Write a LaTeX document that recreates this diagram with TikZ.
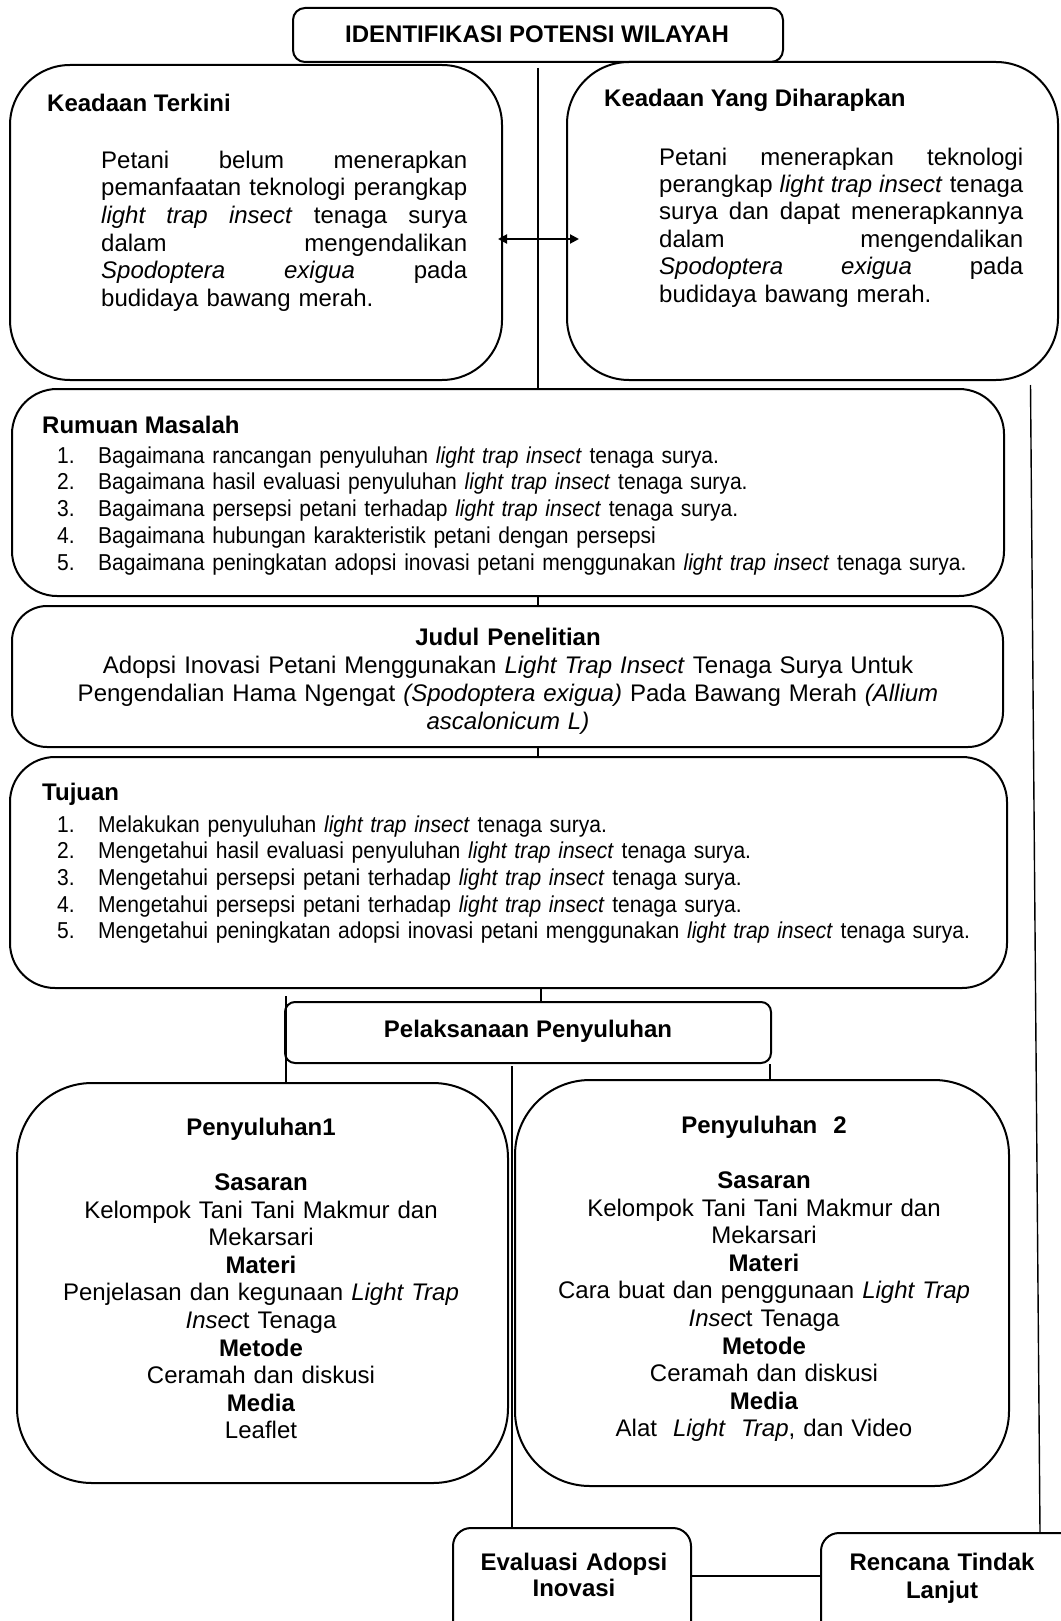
\documentclass[tikz,border=0pt]{standalone}
\usepackage{fontspec}
\setmainfont{Liberation Sans}
\newfontfamily\listfont[FakeStretch=0.915]{Liberation Sans}
\usetikzlibrary{arrows.meta,calc}
\newcommand{\jline}[2]{\makebox[#1][s]{\spaceskip=0.28em plus 1fil\relax #2}}
\newcommand{\itm}[2]{\makebox[41pt][l]{#1}#2}
\tikzset{
  panel/.style={draw, line width=2pt, rounded corners=#1, inner sep=0pt, fill=white},
  link/.style={line width=1.4pt},
  hd/.style={inner sep=0pt, font=\bfseries\fontsize{24}{28}\selectfont},
  para/.style={inner sep=0pt, anchor=north west, align=left},
  ctr/.style={inner sep=0pt, anchor=north, align=center},
}
\begin{document}
\begin{tikzpicture}[x=1pt,y=-1pt]
\useasboundingbox (0,0) rectangle (1060,1621);
\fill[white] (0,0) rectangle (1060,1621);

% boxes
\node[panel=12pt, minimum width=490pt, minimum height=54pt] (title) at (538,35) {};
\node[panel=60pt, minimum width=492pt, minimum height=315pt] (kt) at (256,222.5) {};
\node[panel=62pt, minimum width=491pt, minimum height=318pt] (kd) at (812.5,221) {};
\node[panel=45pt, minimum width=992pt, minimum height=207pt] (rm) at (508,492.5) {};
\node[panel=35pt, minimum width=991pt, minimum height=141pt] (jd) at (507.5,676.5) {};
\node[panel=45pt, minimum width=997pt, minimum height=231pt] (tj) at (508.5,872.5) {};
\node[panel=10pt, minimum width=486pt, minimum height=61pt] (pl) at (528,1032.5) {};
\node[panel=75pt, minimum width=491pt, minimum height=400pt] (p1) at (262.5,1283) {};
\node[panel=75pt, minimum width=494pt, minimum height=406pt] (p2) at (762,1283) {};
\node[panel=18pt, minimum width=238pt, minimum height=122pt] (ev) at (572,1589) {};
\node[panel=18pt, minimum width=259pt, minimum height=122pt] (rc) at (950.5,1594) {};

% connectors
\coordinate (vx) at ([yshift=-5pt]title.south);
\draw[link] (vx) -- (vx |- rm.north);
\draw[link] (vx |- rm.south) -- (vx |- jd.north);
\draw[link] (vx |- jd.south) -- (vx |- tj.north);
\coordinate (px) at ([xshift=13pt]pl.north);
\draw[link] (px |- tj.south) -- (px);
\coordinate (lx) at ([xshift=2pt,yshift=5pt]pl.north west);
\draw[link] (lx) -- (lx |- p1.north);
\coordinate (rx) at ([xshift=-2pt]pl.south east);
\draw[link] (rx) -- (rx |- p2.north);
\coordinate (mx) at (512,1066);
\draw[link] (mx) -- (mx |- ev.north);
\coordinate (hx) at (0,1576);
\draw[link] (ev.east |- hx) -- (rc.west |- hx);
\draw[link] ([xshift=218pt,yshift=-4pt]kd.south) -- ([xshift=89.5pt]rc.north);
\draw[line width=2pt, {Triangle[length=9pt,width=9pt]}-{Triangle[length=9pt,width=9pt]}]
  ([xshift=-5pt,yshift=-16.5pt]kt.east) -- ([xshift=13pt,yshift=-18pt]kd.west);

% texts
\node[hd, anchor=base] (titleT) at (537,43) {IDENTIFIKASI POTENSI WILAYAH};

\node[hd, anchor=base west] (ktH) at (47,112) {Keadaan Terkini};
\node[para, text width=366pt, font=\fontsize{24}{27.7}\selectfont] (ktT) at (101,148.6) {%
\strut\jline{366pt}{Petani belum menerapkan}\\
\jline{366pt}{pemanfaatan teknologi perangkap}\\
\jline{366pt}{\textit{light trap insect} tenaga surya}\\
\jline{366pt}{dalam mengendalikan}\\
\jline{366pt}{\textit{Spodoptera exigua} pada}\\
budidaya bawang merah.};

\node[hd, anchor=base west] (kdH) at (604,107) {Keadaan Yang Diharapkan};
\node[para, text width=364pt, font=\fontsize{24}{27.4}\selectfont] (kdT) at (659,145.8) {%
\strut\jline{364pt}{Petani menerapkan teknologi}\\
\jline{364pt}{perangkap \textit{light trap insect} tenaga}\\
\jline{364pt}{surya dan dapat menerapkannya}\\
\jline{364pt}{dalam mengendalikan}\\
\jline{364pt}{\textit{Spodoptera exigua} pada}\\
budidaya bawang merah.};

\node[hd, anchor=base west] (rmH) at (42,433) {Rumuan Masalah};
\node[para, text width=945pt, font=\listfont\fontsize{23}{26.8}\selectfont] (rmT) at (57,444.2) {%
\strut\itm{1.}{Bagaimana rancangan penyuluhan \textit{light trap insect} tenaga surya.}\\
\itm{2.}{Bagaimana hasil evaluasi penyuluhan \textit{light trap insect} tenaga surya.}\\
\itm{3.}{Bagaimana persepsi petani terhadap \textit{light trap insect} tenaga surya.}\\
\itm{4.}{Bagaimana hubungan karakteristik petani dengan persepsi}\\
\itm{5.}{Bagaimana peningkatan adopsi inovasi petani menggunakan \textit{light trap insect} tenaga surya.}};

\node[ctr, text width=985pt, font=\fontsize{24}{28}\selectfont] (jdT) at (508,625.4) {%
\strut\textbf{Judul Penelitian}\\
Adopsi Inovasi Petani Menggunakan \textit{Light Trap Insect} Tenaga Surya Untuk\\
Pengendalian Hama Ngengat \textit{(Spodoptera exigua)} Pada Bawang Merah \textit{(Allium}\\
\textit{ascalonicum L)}};

\node[hd, anchor=base west] (tjH) at (42,800) {Tujuan};
\node[para, text width=945pt, font=\listfont\fontsize{23}{26.7}\selectfont] (tjT) at (57,813.3) {%
\strut\itm{1.}{Melakukan penyuluhan \textit{light trap insect} tenaga surya.}\\
\itm{2.}{Mengetahui hasil evaluasi penyuluhan \textit{light trap insect} tenaga surya.}\\
\itm{3.}{Mengetahui persepsi petani terhadap \textit{light trap insect} tenaga surya.}\\
\itm{4.}{Mengetahui persepsi petani terhadap \textit{light trap insect} tenaga surya.}\\
\itm{5.}{Mengetahui peningkatan adopsi inovasi petani menggunakan \textit{light trap insect} tenaga surya.}};

\node[hd, anchor=base] (plT) at (528,1037) {Pelaksanaan Penyuluhan};

\node[ctr, text width=480pt, font=\fontsize{24}{27.6}\selectfont] (p1T) at (261,1115.7) {%
\strut\textbf{Penyuluhan1}\\ \mbox{}\\
\textbf{Sasaran}\\
Kelompok Tani Tani Makmur dan\\
Mekarsari\\
\textbf{Materi}\\
Penjelasan dan kegunaan \textit{Light Trap}\\
\textit{Insec}t Tenaga\\
\textbf{Metode}\\
Ceramah dan diskusi\\
\textbf{Media}\\
Leaflet};

\node[ctr, text width=480pt, font=\fontsize{24}{27.6}\selectfont] (p2T) at (764,1113.7) {%
\strut\textbf{Penyuluhan\ \ 2}\\ \mbox{}\\
\textbf{Sasaran}\\
Kelompok Tani Tani Makmur dan\\
Mekarsari\\
\textbf{Materi}\\
Cara buat dan penggunaan \textit{Light Trap}\\
\textit{Insec}t Tenaga\\
\textbf{Metode}\\
Ceramah dan diskusi\\
\textbf{Media}\\
Alat \ \textit{Light \ Trap}, dan Video};

\node[ctr, text width=230pt, font=\bfseries\fontsize{24}{26}\selectfont] (evT) at (574,1551.8) {%
\strut Evaluasi Adopsi\\ Inovasi};
\node[ctr, text width=250pt, font=\bfseries\fontsize{24}{28}\selectfont] (rcT) at (942,1550.4) {%
\strut Rencana Tindak\\ Lanjut};
\end{tikzpicture}
\end{document}
